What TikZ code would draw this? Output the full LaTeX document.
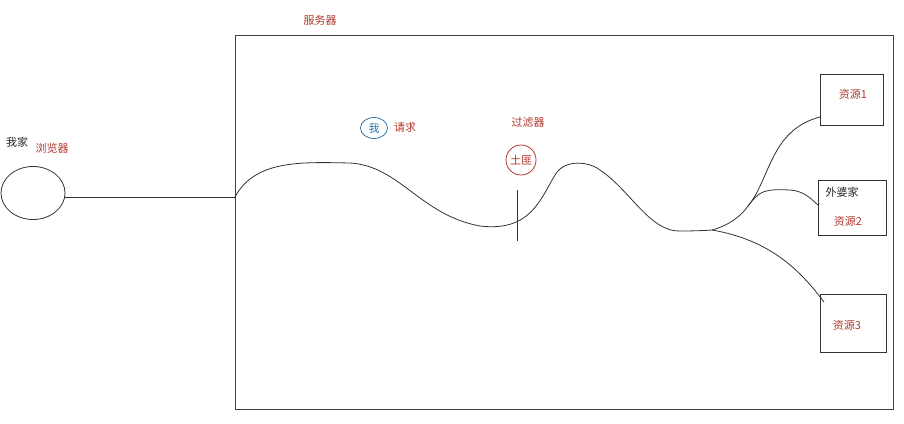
\documentclass[tikz,border=0pt]{standalone}
\usepackage{fontspec}
\setmainfont{Noto Sans CJK SC}
\usetikzlibrary{shapes.geometric}
\definecolor{redtxt}{HTML}{B0392E}
\definecolor{bluetxt}{HTML}{2E78B0}
\definecolor{linegray}{HTML}{333333}
\tikzset{
  lbl/.style={font=\fontsize{11}{13}\selectfont, inner sep=0pt},
  redlbl/.style={lbl, text=redtxt},
  blacklbl/.style={lbl, text=black!85},
  resbox/.style={draw=linegray, line width=0.9pt, inner sep=0pt},
  wire/.style={draw=linegray, line width=0.8pt},
}
\begin{document}
\begin{tikzpicture}[x=1pt,y=-1pt]
\useasboundingbox[fill=white] (0,0) rectangle (904,423);
% server box
\node[draw=black!75, line width=1pt, minimum width=658pt, minimum height=374pt, inner sep=0pt, anchor=north west] (server) at (235,35) {};
\node[redlbl] (serverlbl) at (320,20) {服务器};
% browser
\node[ellipse, draw=linegray, line width=0.8pt, minimum width=64pt, minimum height=53pt, inner sep=0pt] (browser) at (33,193) {};
\node[blacklbl] (home) at (17,142) {我家};
\node[redlbl] (browserlbl) at (52,148) {浏览器};
% request
\node[ellipse, draw=bluetxt, line width=0.8pt, minimum width=27pt, minimum height=21pt, inner sep=0pt, text=bluetxt, font=\fontsize{11}{13}\selectfont] (me) at (374,128) {我};
\node[redlbl] (req) at (405,127) {请求};
% filter
\node[redlbl] (filterlbl) at (528,122) {过滤器};
\node[circle, draw=redtxt, line width=0.8pt, minimum size=30pt, inner sep=0pt, text=redtxt, font=\fontsize{11}{13}\selectfont] (bandit) at (521,160) {土匪};
\coordinate (gtop) at (517,190);
\coordinate (gbot) at (517,241);
\draw[wire, line width=1pt] (gtop) -- (gbot);
% resources
\node[resbox, minimum width=63pt, minimum height=51pt, anchor=north west] (r1) at (820,74) {};
\node[redlbl] (r1lbl) at (853,94) {资源1};
\node[resbox, minimum width=68pt, minimum height=55pt, anchor=north west] (r2) at (818,180) {};
\node[blacklbl] (grandma) at (842,192) {外婆家};
\node[redlbl] (r2lbl) at (848,221) {资源2};
\node[resbox, minimum width=66pt, minimum height=58pt, anchor=north west] (r3) at (820,294) {};
\node[redlbl] (r3lbl) at (847,325) {资源3};
% connectors
\coordinate (entry) at (server.west |- 0,197);
\coordinate (fork) at (748,206);
\coordinate (fork3) at (712,230);
\coordinate (r1in) at (r1.west |- 0,117);
\coordinate (r2in) at (r2.west |- 0,205);
\coordinate (r3in) at (824,302);
\draw[wire] (browser.east |- entry) -- (entry);
\draw[wire] (entry) .. controls (255,160) and (300,162) .. (350,163)
  .. controls (400,166) and (420,215) .. (480,226)
  .. controls (530,232) and (540,200) .. (555,175)
  .. controls (565,158) and (590,162) .. (600,170)
  .. controls (630,190) and (650,232) .. (680,231)
  .. controls (700,231) and (712,230) .. (fork3)
  .. controls (730,225) and (742,215) .. (fork);
\draw[wire] (fork) .. controls (770,180) and (770,130) .. (r1in);
\draw[wire] (fork) .. controls (760,190) and (765,189) .. (790,190)
  .. controls (805,191) and (812,200) .. (r2in);
\draw[wire] (fork3) .. controls (770,240) and (800,270) .. (r3in);
\end{tikzpicture}
\end{document}
